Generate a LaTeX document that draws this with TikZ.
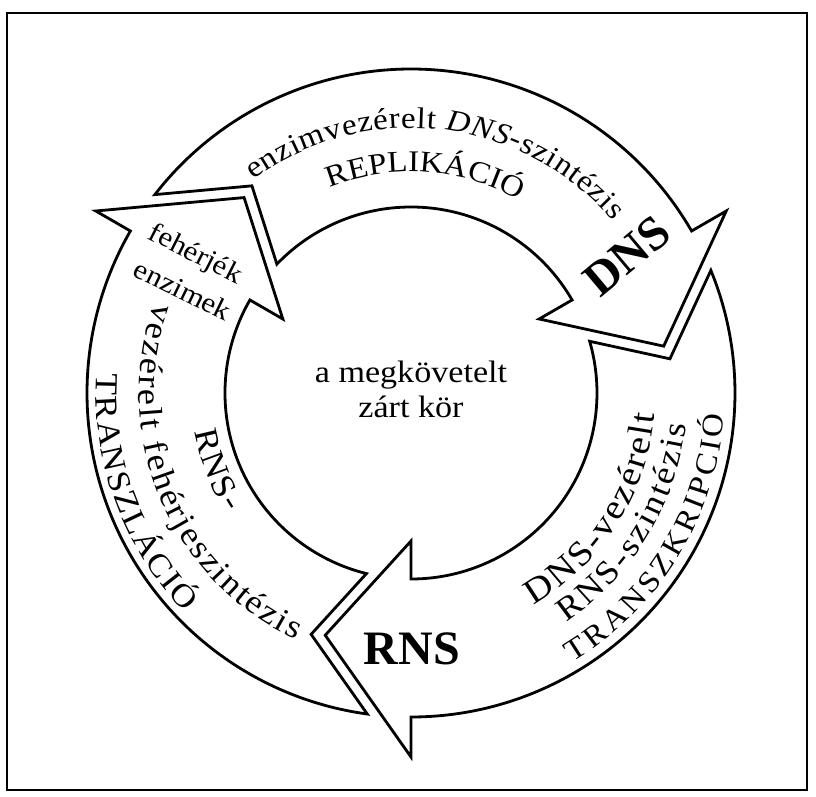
\documentclass[tikz,border=0pt]{standalone}
\usepackage{fontspec}
\setmainfont{Liberation Serif}
\newfontfamily\wideserif[FakeStretch=1.1]{Liberation Serif}
\usetikzlibrary{decorations.text}

% type sizes
\newcommand\ringtext[1]{\wideserif\fontsize{#1}{#1}\selectfont}
\newcommand\headtext{\wideserif\fontsize{28}{28}\selectfont}
\newcommand\midtext{\wideserif\fontsize{31}{31}\selectfont}
\newcommand\molfont{\bfseries\fontsize{48}{48}\selectfont}
\newcommand\sizeA{\ringtext{30}}
\newcommand\sizeAit{\ringtext{30}\itshape}
\newcommand\sizeB{\ringtext{33}}
\newcommand\sizeC{\ringtext{35}}
\newcommand\sizeD{\ringtext{32}}

\begin{document}
\begin{tikzpicture}[x=1pt,y=1pt,
  ring/.style={line width=2.8pt, line join=miter, miter limit=20},
  frame/.style={line width=2.4pt},
  % one third of the cycle: head base on the 0 degree ray, tail notch at +120
  cyclearrow/.pic={
    \draw[ring] (112.245:324pt) arc[start angle=112.245, end angle=0, radius=324pt]
      -- (0:364pt) -- (-19.5:257pt) -- (0:148pt) -- (0:186pt)
      arc[start angle=0, end angle=106.14, radius=186pt]
      -- (97.52:261.2pt) -- cycle;
  },
  cw/.style={decorate, decoration={text along path, text align={fit to path}, text={#1}}},
  cwc/.style={decorate, decoration={text along path, text align=center, text={#1}}}
]
\useasboundingbox (-411,-404) rectangle (405,393);
\draw[frame] (-404,380) rectangle (396,-397);

% the three arrows of the cycle
\path (0,0) pic[rotate=30]  {cyclearrow};
\path (0,0) pic[rotate=-90] {cyclearrow};
\path (0,0) pic[rotate=150] {cyclearrow};

% replication (top)
\path[cw={|\sizeA|enzimvezérelt |\sizeAit|DNS|\sizeA|-szintézis}]
  (126.5:265pt) arc[start angle=126.5, end angle=40.5, radius=265pt];
\path[cwc={|\sizeA|REPLIKÁCIÓ}]
  (121.25:221pt) arc[start angle=121.25, end angle=51.25, radius=221pt];

% transcription (right)
\path[cw={|\sizeC|DNS-vezérelt}]
  (-60:245pt) arc[start angle=-60, end angle=-5, radius=245pt];
\path[cw={|\sizeB|RNS-szintézis}]
  (-56:277pt) arc[start angle=-56, end angle=-6.5, radius=277pt];
\path[cw={|\sizeA|TRANSZKRIPCIÓ}]
  (-59:314pt) arc[start angle=-59, end angle=-4, radius=314pt];

% translation (left)
\path[cw={|\sizeB|RNS-}]
  (190:220pt) arc[start angle=190, end angle=213, radius=220pt];
\path[cw={|\sizeB|vezérelt fehérjeszintézis}]
  (160.5:272pt) arc[start angle=160.5, end angle=245, radius=272pt];
\path[cw={|\sizeD|TRANSZLÁCIÓ}]
  (176.5:315pt) arc[start angle=176.5, end angle=224, radius=315pt];

% labels
\node[font=\headtext, rotate=-27] (feherjek) at (-216,138) {fehérjék};
\node[font=\headtext, rotate=-26] (enzimek) at (-228,103) {enzimek};
\node[font=\molfont, rotate=40] (dns) at (216,137) {DNS};
\node[font=\molfont] (rns) at (1,-256) {RNS};
\node[font=\midtext, anchor=base] (goal) at (0,10) {a megkövetelt};
\node[font=\midtext, anchor=base] (loop) at (0,-25) {zárt kör};
\end{tikzpicture}
\end{document}
